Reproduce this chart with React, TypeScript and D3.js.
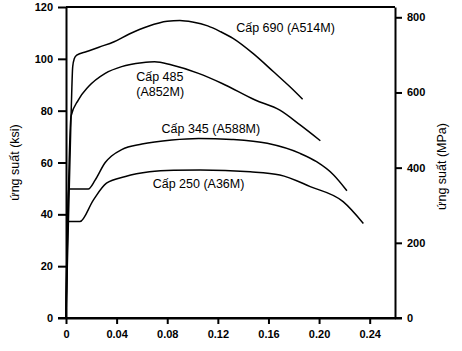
import React, { useEffect, useRef } from 'react';
import * as d3 from 'd3';

// strain (in/in) vs stress (ksi)
const grade690Strain = [0, 0.004, 0.0053, 0.0065, 0.0085, 0.0164, 0.026, 0.038, 0.05, 0.065, 0.08, 0.09, 0.1, 0.112, 0.122, 0.132, 0.148, 0.164, 0.177, 0.187];
const grade690Stress = [0, 78, 97, 100, 101.4, 102.8, 104.5, 106.6, 109.6, 112.6, 114.5, 114.8, 114.2, 112.7, 110.5, 107.9, 102, 95, 89.2, 84.4];

const grade485Strain = [0, 0.004, 0.0097, 0.0176, 0.031, 0.044, 0.06, 0.07, 0.0836, 0.1047, 0.123, 0.1495, 0.169, 0.185, 0.201];
const grade485Stress = [0, 77.9, 84.1, 89.2, 94.4, 97, 98.5, 98.9, 97.6, 94.4, 90.6, 84.1, 80.2, 74.5, 68.4];

const grade345Strain = [0, 0.0018, 0.0176, 0.023, 0.031, 0.036, 0.044, 0.06, 0.0836, 0.1047, 0.131, 0.159, 0.185, 0.198, 0.2115, 0.222];
const grade345Stress = [0, 49.8, 49.8, 53.2, 60, 62.5, 65, 67.1, 68.7, 69.3, 68.9, 67.4, 63.5, 60.3, 55.2, 49.1];

const grade250Strain = [0, 0.0013, 0.011, 0.0216, 0.032, 0.047, 0.066, 0.085, 0.106, 0.1456, 0.169, 0.193, 0.219, 0.235];
const grade250Stress = [0, 37.2, 37.2, 45.5, 52, 54.6, 56.4, 57, 57.1, 56.4, 55.2, 50.7, 44.9, 36.5];

const xTicks = [0, 0.04, 0.08, 0.12, 0.16, 0.2, 0.24];
const xTickLabels = ['0', '0.04', '0.08', '0.12', '0.16', '0.20', '0.24'];
const ksiTicks = [0, 20, 40, 60, 80, 100, 120];
const mpaTicks = [0, 200, 400, 600, 800];

const curveLabels = [
  { lines: ['Cấp 690 (A514M)'], strain: 0.1345, stress: 110.5 },
  { lines: ['Cấp 485', '(A852M)'], strain: 0.0555, stress: 91.5 },
  { lines: ['Cấp 345 (A588M)'], strain: 0.0755, stress: 71.5 },
  { lines: ['Cấp 250 (A36M)'], strain: 0.0685, stress: 50.3 },
];

function App() {
  const ref = useRef<SVGSVGElement>(null);

  useEffect(() => {
    drawChart();
  }, []);

  function drawChart() {
    const width = 462;
    const height = 351;
    const left = 66, right = 395, top = 7, bottom = 318;
    const font = '"Liberation Sans", Arial, Helvetica, sans-serif';

    const svg = d3.select(ref.current);
    svg.selectAll('*').remove();
    svg.attr('width', width).attr('height', height).style('background', 'white');

    const x = d3.scaleLinear().domain([0, 0.26]).range([left, right]);
    const y = d3.scaleLinear().domain([0, 120]).range([bottom, top]);
    const yMpa = d3.scaleLinear().domain([0, 120 * 6.89476]).range([bottom, top]);

    // frame
    svg.append('line')
      .attr('x1', left).attr('x2', right).attr('y1', top).attr('y2', top)
      .attr('stroke', 'black').attr('stroke-width', 2);

    const leftAxis = svg.append('g')
      .attr('transform', `translate(${left},0)`)
      .call(d3.axisLeft(y).tickValues(ksiTicks).tickSize(8).tickSizeOuter(0));
    const bottomAxis = svg.append('g')
      .attr('transform', `translate(0,${bottom})`)
      .call(d3.axisBottom(x).tickValues(xTicks).tickSize(6).tickSizeOuter(0)
        .tickFormat((d, i) => xTickLabels[i]));
    const rightAxis = svg.append('g')
      .attr('transform', `translate(${right},0)`)
      .call(d3.axisRight(yMpa).tickValues(mpaTicks).tickSize(7).tickSizeOuter(0));

    [leftAxis, bottomAxis, rightAxis].forEach(g => {
      g.select('.domain').attr('stroke', 'black').attr('stroke-width', 2);
      g.selectAll('.tick line').attr('stroke', 'black').attr('stroke-width', 2);
      g.selectAll('.tick text')
        .attr('fill', 'black')
        .style('font-family', font)
        .style('font-weight', 'bold')
        .style('font-size', '11px');
    });
    leftAxis.selectAll('.tick text').attr('x', -13);
    bottomAxis.selectAll('.tick text').attr('y', 12);
    rightAxis.selectAll('.tick text').attr('x', 12);

    // extend baseline past the left tick
    svg.append('line')
      .attr('x1', left - 8).attr('x2', right + 7).attr('y1', bottom).attr('y2', bottom)
      .attr('stroke', 'black').attr('stroke-width', 2);

    // axis titles
    svg.append('text')
      .attr('transform', `translate(19,${(top + bottom) / 2}) rotate(-90)`)
      .attr('text-anchor', 'middle')
      .style('font-family', font)
      .style('font-size', '12.5px')
      .text('ứng suất (ksi)');
    svg.append('text')
      .attr('transform', `translate(446,${(top + bottom) / 2 + 4}) rotate(-90)`)
      .attr('text-anchor', 'middle')
      .style('font-family', font)
      .style('font-size', '12.5px')
      .text('ứng suất (MPa)');

    // curves
    const line = d3.line<[number, number]>()
      .x(d => x(d[0]))
      .y(d => y(d[1]))
      .curve(d3.curveMonotoneX);

    const series = [
      [grade690Strain, grade690Stress],
      [grade485Strain, grade485Stress],
      [grade345Strain, grade345Stress],
      [grade250Strain, grade250Stress],
    ];

    series.forEach(([strain, stress]) => {
      const pts: [number, number][] = strain.map((s, i) => [s, stress[i]]);
      svg.append('path')
        .datum(pts)
        .attr('d', line)
        .attr('fill', 'none')
        .attr('stroke', 'black')
        .attr('stroke-width', 1.5)
        .attr('stroke-linejoin', 'round');
    });

    curveLabels.forEach(lbl => {
      const t = svg.append('text')
        .attr('x', x(lbl.strain))
        .attr('y', y(lbl.stress))
        .style('font-family', font)
        .style('font-size', '12.5px');
      lbl.lines.forEach((s, i) => {
        t.append('tspan')
          .attr('x', x(lbl.strain))
          .attr('dy', i === 0 ? 0 : 15)
          .text(s);
      });
    });
  }

  return (
    <svg ref={ref} style={{ position: 'absolute', left: 0, top: 0, display: 'block' }} />
  );
}

export default App;
